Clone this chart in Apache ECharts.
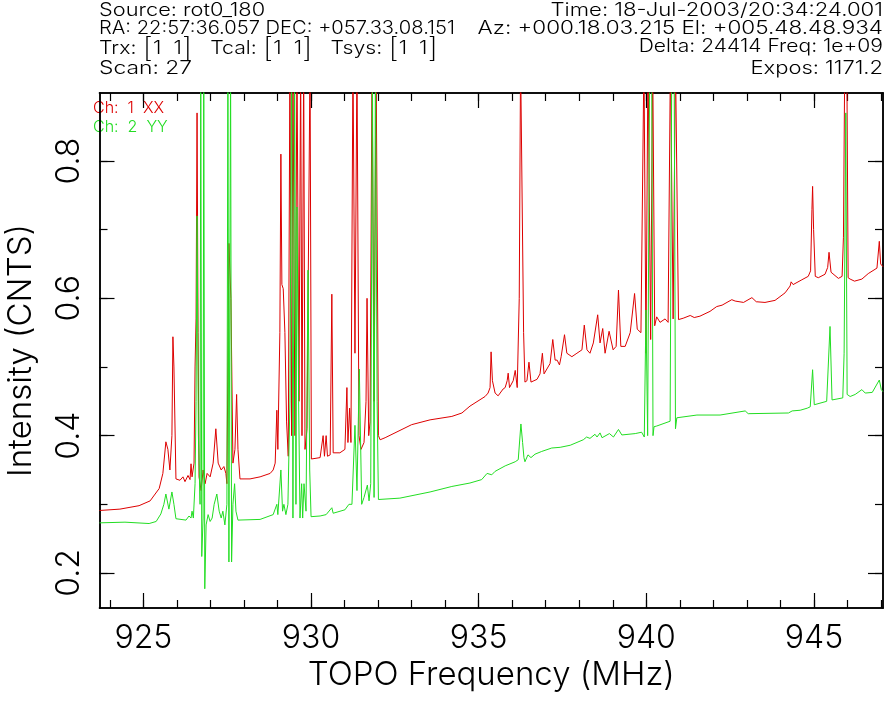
<!DOCTYPE html>
<html>
<head>
<meta charset="utf-8">
<script src="https://cdn.jsdelivr.net/npm/echarts@6/dist/echarts.min.js"></script>
<style>
html,body{margin:0;padding:0;background:#fff;}
#chart{width:885px;height:724px;}
</style>
</head>
<body>
<div id="chart"></div>
<script>
// ---- data ----
const xxFreq = [923.69,924.30,924.87,925.20,925.47,925.58,925.67,925.73,925.79,925.85,925.88,925.91,925.97,926.09,926.18,926.24,926.33,926.39,926.42,926.45,926.51,926.54,926.57,926.60,926.63,926.66,926.72,926.78,926.84,926.90,926.99,927.08,927.16,927.23,927.32,927.40,927.46,927.49,927.55,927.61,927.67,927.73,927.78,927.82,927.88,928.18,928.48,928.78,928.87,928.93,928.98,929.01,929.07,929.10,929.13,929.17,929.22,929.27,929.32,929.37,929.42,929.46,929.52,929.58,929.64,929.69,929.73,929.78,929.82,929.88,929.97,930.01,930.27,930.36,930.40,930.45,930.49,930.57,930.62,930.66,930.86,931.01,931.07,931.10,931.15,931.19,931.25,931.31,931.37,931.43,931.49,931.58,931.64,931.67,931.72,931.76,931.82,931.88,931.94,932.01,932.06,932.21,933.00,933.55,934.20,934.50,934.74,935.19,935.28,935.34,935.37,935.41,935.49,935.58,935.73,935.79,935.85,935.88,935.92,935.97,936.03,936.09,936.15,936.21,936.25,936.29,936.34,936.38,936.44,936.50,936.56,936.65,936.74,936.83,936.90,936.95,937.07,937.13,937.21,937.28,937.34,937.41,937.46,937.56,937.63,937.78,937.93,938.08,938.15,938.23,938.32,938.42,938.55,938.62,938.70,938.77,938.89,939.01,939.10,939.17,939.24,939.37,939.52,939.65,939.73,939.84,939.93,939.99,940.05,940.13,940.19,940.25,940.31,940.41,940.56,940.65,940.72,940.80,940.87,940.96,941.10,941.31,941.43,941.60,941.90,942.10,942.26,942.55,942.65,942.90,943.15,943.28,943.54,943.84,944.14,944.29,944.32,944.38,944.64,944.83,944.90,944.94,944.96,944.99,945.04,945.13,945.33,945.41,945.45,945.51,945.73,945.84,945.88,945.92,945.98,946.02,946.08,946.21,946.43,946.62,946.88,946.95,946.99,947.06];
const xxInt = [0.291,0.293,0.298,0.305,0.323,0.345,0.391,0.38,0.35,0.40,0.544,0.50,0.337,0.335,0.34,0.333,0.342,0.336,0.359,0.34,0.36,0.50,0.57,0.87,0.55,0.34,0.32,0.35,0.33,0.345,0.34,0.36,0.41,0.36,0.35,0.355,0.345,0.33,0.68,0.60,0.36,0.38,0.46,0.38,0.337,0.337,0.34,0.345,0.35,0.36,0.437,0.38,0.55,0.81,0.62,0.614,0.55,0.42,0.37,0.95,0.40,0.95,0.40,0.95,0.45,0.95,0.40,0.95,0.38,0.41,0.95,0.366,0.368,0.40,0.37,0.40,0.37,0.372,0.606,0.375,0.375,0.38,0.47,0.39,0.44,0.39,0.95,0.52,0.95,0.40,0.38,0.39,0.45,0.60,0.40,0.42,0.95,0.45,0.95,0.40,0.394,0.397,0.416,0.423,0.428,0.433,0.443,0.457,0.462,0.47,0.522,0.48,0.462,0.458,0.468,0.47,0.48,0.491,0.47,0.468,0.48,0.495,0.47,0.60,0.95,0.95,0.55,0.478,0.48,0.507,0.478,0.48,0.482,0.49,0.52,0.49,0.50,0.505,0.54,0.51,0.51,0.503,0.515,0.547,0.52,0.515,0.52,0.525,0.561,0.525,0.52,0.535,0.576,0.535,0.556,0.52,0.552,0.525,0.53,0.612,0.53,0.53,0.55,0.607,0.555,0.55,0.95,0.52,0.95,0.54,0.95,0.56,0.573,0.565,0.57,0.565,0.95,0.57,0.95,0.569,0.571,0.575,0.572,0.574,0.581,0.588,0.59,0.598,0.596,0.594,0.601,0.595,0.594,0.597,0.608,0.618,0.624,0.62,0.627,0.632,0.64,0.729,0.763,0.70,0.632,0.63,0.635,0.645,0.667,0.638,0.629,0.632,0.689,0.95,0.95,0.63,0.628,0.625,0.628,0.636,0.644,0.683,0.65,0.646];

const yyFreq = [923.69,924.45,925.17,925.38,925.52,925.61,925.67,925.76,925.85,925.91,925.97,926.27,926.36,926.42,926.45,926.49,926.54,926.57,926.60,926.64,926.69,926.71,926.74,926.78,926.80,926.83,926.87,926.93,926.99,927.05,927.11,927.19,927.26,927.32,927.37,927.43,927.49,927.52,927.55,927.60,927.63,927.67,927.72,927.76,927.82,928.48,928.87,928.98,929.01,929.10,929.15,929.19,929.25,929.31,929.37,929.42,929.46,929.51,929.55,929.58,929.63,929.67,929.72,929.75,929.79,929.85,929.91,929.96,930.00,930.27,930.45,930.62,930.66,931.01,931.13,931.22,931.31,931.37,931.44,931.51,931.58,931.68,931.73,931.78,931.83,931.88,931.92,931.97,932.01,932.65,933.55,934.20,934.74,935.09,935.25,935.39,935.49,935.79,936.09,936.18,936.26,936.31,936.35,936.38,936.47,936.56,936.68,936.88,937.18,937.43,937.73,938.12,938.22,938.32,938.47,938.53,938.62,938.68,938.90,939.02,939.17,939.27,939.67,939.86,939.94,939.99,940.04,940.10,940.16,940.20,940.23,940.31,940.71,940.76,940.83,940.87,940.91,941.51,942.20,942.95,943.04,944.24,944.35,944.59,944.80,944.89,944.96,945.01,945.38,945.48,945.54,945.86,945.90,945.95,945.99,946.08,946.23,946.43,946.53,946.74,946.95,947.01,947.06];
const yyInt = [0.273,0.274,0.272,0.275,0.286,0.30,0.315,0.293,0.318,0.30,0.279,0.277,0.283,0.28,0.29,0.28,0.33,0.45,0.72,0.40,0.30,0.95,0.224,0.28,0.95,0.177,0.27,0.285,0.275,0.28,0.30,0.315,0.29,0.28,0.29,0.27,0.30,0.95,0.216,0.95,0.216,0.30,0.33,0.29,0.277,0.278,0.285,0.30,0.285,0.35,0.29,0.30,0.285,0.30,0.449,0.95,0.28,0.95,0.30,0.733,0.45,0.28,0.33,0.28,0.33,0.29,0.641,0.35,0.282,0.283,0.285,0.295,0.287,0.292,0.30,0.30,0.415,0.32,0.497,0.30,0.31,0.328,0.305,0.33,0.95,0.31,0.95,0.45,0.307,0.309,0.318,0.326,0.331,0.336,0.345,0.343,0.348,0.356,0.362,0.365,0.417,0.39,0.368,0.362,0.372,0.368,0.373,0.377,0.382,0.383,0.386,0.394,0.398,0.396,0.402,0.398,0.404,0.397,0.403,0.398,0.409,0.401,0.403,0.405,0.398,0.583,0.40,0.95,0.95,0.40,0.413,0.414,0.421,0.95,0.95,0.41,0.426,0.43,0.43,0.436,0.432,0.433,0.436,0.437,0.44,0.442,0.496,0.445,0.45,0.559,0.452,0.455,0.52,0.87,0.46,0.457,0.46,0.467,0.462,0.463,0.481,0.467,0.464];

const xRange = [923.69, 947.06];
const yRange = [0.149, 0.899];
const xMajorTicks = [925, 930, 935, 940, 945];
const xMinorTicks = [924,925,926,927,928,929,930,931,932,933,934,935,936,937,938,939,940,941,942,943,944,945,946,947];
const yMajorTicks = [0.2, 0.4, 0.6, 0.8];
const yMinorTicks = [0.2, 0.3, 0.4, 0.5, 0.6, 0.7, 0.8];

const headerLeft = ['Source: rot0_180', 'RA: 22:57:36.057 DEC: +057.33.08.151', null, 'Scan: 27'];
const headerRight = ['Time: 18-Jul-2003/20:34:24.001', 'Az: +000.18.03.215 El: +005.48.48.934', 'Delta: 24414 Freq: 1e+09', 'Expos: 1171.2'];
const legendNames = ['Ch: 1 XX', 'Ch: 2 YY'];

// ---- chart ----
const FONT = 'Inter, "Liberation Sans", sans-serif';
const FW = 300;
const RED = '#dd0000';
const GREEN = '#22dd22';
const zip = (a, b) => a.map((v, i) => [v, b[i]]);

const chart = echarts.init(document.getElementById('chart'), null, {renderer: 'canvas'});

function xAx(pos, ticks, len, labels) {
  return {
    type: 'value', position: pos, min: xRange[0], max: xRange[1],
    axisLine: {show: true, onZero: false, lineStyle: {color: '#000', width: 1.5}},
    axisTick: {show: true, inside: true, length: len, customValues: ticks, lineStyle: {color: '#000', width: 1.2}},
    axisLabel: labels ? {show: true, customValues: ticks, fontSize: 32, color: '#000', margin: 14, fontFamily: FONT, fontWeight: FW} : {show: false},
    splitLine: {show: false}
  };
}
function yAx(pos, ticks, len, labels) {
  return {
    type: 'value', position: pos, min: yRange[0], max: yRange[1],
    axisLine: {show: true, onZero: false, lineStyle: {color: '#000', width: 1.5}},
    axisTick: {show: true, inside: true, length: len, customValues: ticks, lineStyle: {color: '#000', width: 1.2}},
    axisLabel: labels ? {show: true, customValues: ticks, rotate: 90, fontSize: 32, color: '#000', margin: 14, fontFamily: FONT, fontWeight: FW,
      formatter: v => v.toFixed(1)} : {show: false},
    splitLine: {show: false}
  };
}

const xAxes = [xAx('bottom', xMajorTicks, 15, true), xAx('bottom', xMinorTicks, 8, false), xAx('top', xMajorTicks, 15, false), xAx('top', xMinorTicks, 8, false)];
xAxes[0].name = 'TOPO Frequency (MHz)';
xAxes[0].nameLocation = 'middle';
xAxes[0].nameGap = 48;
xAxes[0].nameTextStyle = {fontSize: 33, color: '#000', fontFamily: FONT, fontWeight: FW};

const yAxes = [yAx('left', yMajorTicks, 15, true), yAx('left', yMinorTicks, 8, false), yAx('right', yMajorTicks, 15, false), yAx('right', yMinorTicks, 8, false)];
yAxes[0].name = 'Intensity (CNTS)';
yAxes[0].nameLocation = 'middle';
yAxes[0].nameGap = 62;
yAxes[0].nameTextStyle = {fontSize: 33, color: '#000', fontFamily: FONT, fontWeight: FW};

const hdrStyle = {fontSize: 18, fill: '#000', fontFamily: FONT, fontWeight: FW, verticalAlign: 'top'};
const lineTops = [2, 20, 38, 60];
const leftScale = [1.21, 1.12, 1.19, 1.27];
const rightScale = [1.23, 1.25, 1.17, 1.22];
const graphics = [];
headerLeft.forEach((t, i) => {
  if (t) graphics.push({type: 'text', x: 99, y: lineTops[i], scaleX: leftScale[i], style: Object.assign({text: t, align: 'left'}, hdrStyle)});
});
headerRight.forEach((t, i) => {
  graphics.push({type: 'text', x: 883, y: lineTops[i], scaleX: rightScale[i], style: Object.assign({text: t, align: 'right'}, hdrStyle)});
});
// Trx line with tall brackets
graphics.push({type: 'text', x: 99, y: 35, scaleX: 1.18, style: {
  text: '{t|Trx: }{b|[}{t|1  1}{b|]}{t|   Tcal: }{b|[}{t|1  1}{b|]}{t|   Tsys: }{b|[}{t|1  1}{b|]}',
  align: 'left', verticalAlign: 'top',
  rich: {t: {fontSize: 18, fontFamily: FONT, fontWeight: FW, fill: '#000', verticalAlign: 'middle'}, b: {fontSize: 27, fontFamily: FONT, fontWeight: 200, fill: '#000', verticalAlign: 'middle'}}
}});
graphics.push({type: 'text', x: 93, y: 100, style: {text: legendNames[0].replace(/ /g, '  '), fontSize: 16, fill: RED, fontFamily: FONT, fontWeight: FW, verticalAlign: 'top'}});
graphics.push({type: 'text', x: 93, y: 119, style: {text: legendNames[1].replace(/ /g, '  '), fontSize: 16, fill: GREEN, fontFamily: FONT, fontWeight: FW, verticalAlign: 'top'}});

chart.setOption({
  animation: false,
  backgroundColor: '#fff',
  grid: {left: 99.5, right: 2, top: 93, bottom: 116, containLabel: false, outerBoundsMode: 'none'},
  xAxis: xAxes,
  yAxis: yAxes,
  graphic: graphics,
  series: [
    {name: legendNames[0], type: 'line', data: zip(xxFreq, xxInt), showSymbol: false, symbol: 'none', clip: true,
      lineStyle: {color: RED, width: 1}, itemStyle: {color: RED}, xAxisIndex: 0, yAxisIndex: 0},
    {name: legendNames[1], type: 'line', data: zip(yyFreq, yyInt), showSymbol: false, symbol: 'none', clip: true,
      lineStyle: {color: GREEN, width: 1}, itemStyle: {color: GREEN}, xAxisIndex: 0, yAxisIndex: 0}
  ]
});
</script>
</body>
</html>
